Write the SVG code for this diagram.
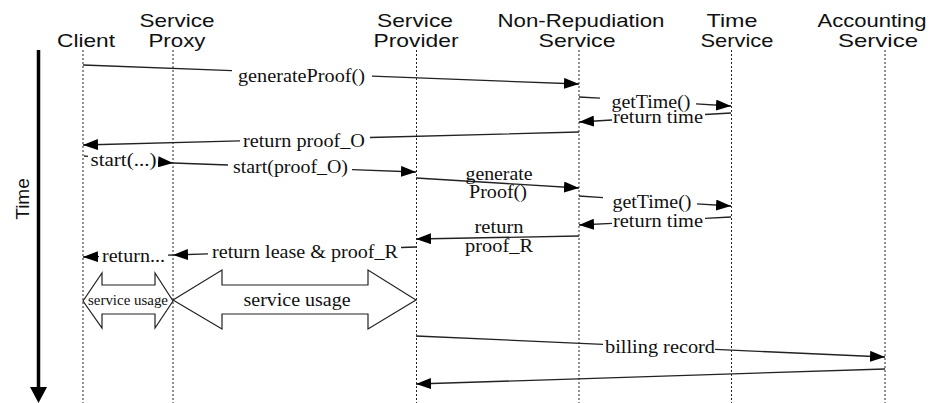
<svg xmlns="http://www.w3.org/2000/svg" width="940" height="403" viewBox="0 0 940 403">
<style>
.hdr{font-family:"Liberation Sans",Arial,sans-serif;font-size:18.5px;fill:#111;text-anchor:middle}
.lbl{font-family:"Liberation Serif","Times New Roman",serif;font-size:19px;fill:#111;text-anchor:middle}
.life{stroke:#222;stroke-width:1;stroke-dasharray:2,2;fill:none}
.msg{stroke:#222;stroke-width:1.3;fill:none}
.arr{stroke:#222;stroke-width:1.2;fill:#fff}
</style>
<defs>
<marker id="ah" viewBox="0 0 15 11" markerWidth="15" markerHeight="11" refX="15" refY="5.5" orient="auto" markerUnits="userSpaceOnUse">
<path d="M0,0 L15,5.5 L0,11 z" fill="#000"/>
</marker>
</defs>
<rect width="940" height="403" fill="#fff"/>

<g id="time-axis">
<line x1="38.5" y1="50" x2="38.5" y2="389" stroke="#000" stroke-width="3.5"/>
<polygon points="30,387 47,387 38.5,403" fill="#000"/>
<text transform="translate(29,199) rotate(-90)" style="font-family:'Liberation Sans',Arial,sans-serif;font-size:19px;fill:#111;text-anchor:middle">Time</text>
</g>

<g id="client">
<text class="hdr" x="86" y="47" textLength="58" lengthAdjust="spacingAndGlyphs">Client</text>
<line class="life" x1="83" y1="50" x2="83" y2="403"/>
</g>
<g id="service-proxy">
<text class="hdr" x="177" y="27" textLength="75" lengthAdjust="spacingAndGlyphs">Service</text>
<text class="hdr" x="177" y="47" textLength="57" lengthAdjust="spacingAndGlyphs">Proxy</text>
<line class="life" x1="173" y1="50" x2="173" y2="403"/>
</g>
<g id="service-provider">
<text class="hdr" x="415" y="27" textLength="76" lengthAdjust="spacingAndGlyphs">Service</text>
<text class="hdr" x="416" y="47" textLength="85" lengthAdjust="spacingAndGlyphs">Provider</text>
<line class="life" x1="416.5" y1="50" x2="416.5" y2="403"/>
</g>
<g id="non-repudiation-service">
<text class="hdr" x="581" y="27" textLength="167" lengthAdjust="spacingAndGlyphs">Non-Repudiation</text>
<text class="hdr" x="577" y="47" textLength="77" lengthAdjust="spacingAndGlyphs">Service</text>
<line class="life" x1="579" y1="50" x2="579" y2="403"/>
</g>
<g id="time-service">
<text class="hdr" x="732" y="27" textLength="51" lengthAdjust="spacingAndGlyphs">Time</text>
<text class="hdr" x="737" y="47" textLength="73" lengthAdjust="spacingAndGlyphs">Service</text>
<line class="life" x1="731.5" y1="50" x2="731.5" y2="403"/>
</g>
<g id="accounting-service">
<text class="hdr" x="872" y="27" textLength="109" lengthAdjust="spacingAndGlyphs">Accounting</text>
<text class="hdr" x="878" y="47" textLength="80" lengthAdjust="spacingAndGlyphs">Service</text>
<line class="life" x1="885" y1="50" x2="885" y2="403"/>
</g>

<g id="usage-client-proxy">
<polygon class="arr" points="83,301 102,273 102,285 155,285 155,273 173,301 155,328 155,314 102,314 102,328"/>
<text x="128" y="305" textLength="80" lengthAdjust="spacingAndGlyphs" style="font-family:'Liberation Serif','Times New Roman',serif;font-size:15px;fill:#111;text-anchor:middle">service usage</text>
</g>
<g id="usage-proxy-provider">
<polygon class="arr" points="173,300 222,270 222,285 368,285 368,270 416,300 368,329 368,314 222,314 222,329"/>
<text class="lbl" x="297" y="306" textLength="107" lengthAdjust="spacingAndGlyphs">service usage</text>
</g>

<g id="connectors">
<path class="msg" d="M83,65 L232,70.7 M372,76.1 L579,84" marker-end="url(#ah)"/>
<text class="lbl" x="301.5" y="82" textLength="127" lengthAdjust="spacingAndGlyphs">generateProof()</text>

<path class="msg" d="M579,97 L600,98.2 M696,103.9 L731,106" marker-end="url(#ah)"/>
<text class="lbl" x="651" y="107.5" textLength="79" lengthAdjust="spacingAndGlyphs">getTime()</text>

<path class="msg" d="M731,113 L705,114.5 M612,120 L579,122" marker-end="url(#ah)"/>
<text class="lbl" x="658" y="123" textLength="90" lengthAdjust="spacingAndGlyphs">return time</text>

<path class="msg" d="M579,132 L370,137.5 M240,140.9 L83,145" marker-end="url(#ah)"/>
<text class="lbl" x="304" y="147" textLength="122" lengthAdjust="spacingAndGlyphs">return proof_O</text>

<path class="msg" d="M84,156 L88,156.3 M158,161.8 L173,163" marker-end="url(#ah)"/>
<text class="lbl" x="123.5" y="166" textLength="66" lengthAdjust="spacingAndGlyphs">start(...)</text>

<path class="msg" d="M173,163 L228,165 M352,169.6 L416,172" marker-end="url(#ah)"/>
<text class="lbl" x="290.5" y="173" textLength="115" lengthAdjust="spacingAndGlyphs">start(proof_O)</text>

<path class="msg" d="M416,178 L579,188" marker-end="url(#ah)"/>
<text class="lbl" x="499" y="180" textLength="67" lengthAdjust="spacingAndGlyphs">generate</text>
<text class="lbl" x="498" y="198" textLength="58" lengthAdjust="spacingAndGlyphs">Proof()</text>

<path class="msg" d="M579,196 L603,197.6 M697,203.8 L731,206" marker-end="url(#ah)"/>
<text class="lbl" x="652" y="207.5" textLength="79" lengthAdjust="spacingAndGlyphs">getTime()</text>

<path class="msg" d="M731,217 L705,218.4 M612,223.3 L579,225" marker-end="url(#ah)"/>
<text class="lbl" x="658" y="227" textLength="90" lengthAdjust="spacingAndGlyphs">return time</text>

<path class="msg" d="M579,236 L416,239" marker-end="url(#ah)"/>
<text class="lbl" x="499" y="233" textLength="49" lengthAdjust="spacingAndGlyphs">return</text>
<text class="lbl" x="499" y="252" textLength="68" lengthAdjust="spacingAndGlyphs">proof_R</text>

<path class="msg" d="M416,247 L401,247.5 M208,253.8 L173,255" marker-end="url(#ah)"/>
<text class="lbl" x="305" y="258" textLength="186" lengthAdjust="spacingAndGlyphs">return lease &amp; proof_R</text>

<path class="msg" d="M173,255 L168,255.1 M99,256.6 L83,257" marker-end="url(#ah)"/>
<text class="lbl" x="133.5" y="262" textLength="63" lengthAdjust="spacingAndGlyphs">return...</text>

<path class="msg" d="M416,336 L603,344.4 M715,349.4 L885,357" marker-end="url(#ah)"/>
<text class="lbl" x="660" y="353" textLength="110" lengthAdjust="spacingAndGlyphs">billing record</text>

<path class="msg" d="M885,369 L416,384" marker-end="url(#ah)"/>
</g>
</svg>
